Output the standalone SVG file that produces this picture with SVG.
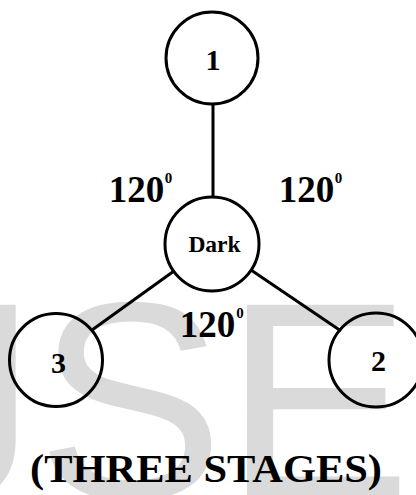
<svg xmlns="http://www.w3.org/2000/svg" width="416" height="495" viewBox="0 0 416 495">
<style>
.wm{font-family:"Liberation Sans",Arial,sans-serif;font-size:281px;fill:#dadada}
.node{fill:none;stroke:#000;stroke-width:3}
.edge{stroke:#000;stroke-width:3;fill:none}
.t{font-family:"Liberation Serif","Times New Roman",serif;font-weight:bold;fill:#000;text-anchor:middle}
.num{font-size:30px}
.dark{font-size:23.5px}
.lbl{font-size:37px}
.sup{font-size:15px}
.title{font-size:39px}
</style>
<rect width="416" height="495" fill="#fff"/>
<text class="wm" x="-104" y="498">JSE</text>
<g id="connectors">
<line class="edge" x1="213" y1="104" x2="213" y2="197"/>
<line class="edge" x1="174" y1="271" x2="92" y2="330"/>
<line class="edge" x1="251" y1="270" x2="341" y2="331"/>
</g>
<g id="node-1">
<circle class="node" cx="212" cy="58" r="46"/>
<text class="t num" x="213" y="70">1</text>
</g>
<g id="node-dark">
<circle class="node" cx="212" cy="244" r="47"/>
<text class="t dark" x="214.5" y="252">Dark</text>
</g>
<g id="node-3">
<circle class="node" cx="56" cy="360" r="46.5"/>
<text class="t num" x="58.5" y="373">3</text>
</g>
<g id="node-2">
<circle class="node" cx="376" cy="360" r="47"/>
<text class="t num" x="378.5" y="371">2</text>
</g>
<g id="angle-labels">
<text class="t"><tspan class="lbl" x="136.5" y="202">120</tspan><tspan class="sup" x="168.5" y="183">0</tspan></text>
<text class="t"><tspan class="lbl" x="306.5" y="202">120</tspan><tspan class="sup" x="338.5" y="183">0</tspan></text>
<text class="t"><tspan class="lbl" x="207.5" y="337">120</tspan><tspan class="sup" x="240" y="318">0</tspan></text>
</g>
<text class="t title" x="206" y="482" textLength="352" lengthAdjust="spacingAndGlyphs">(THREE STAGES)</text>
</svg>
